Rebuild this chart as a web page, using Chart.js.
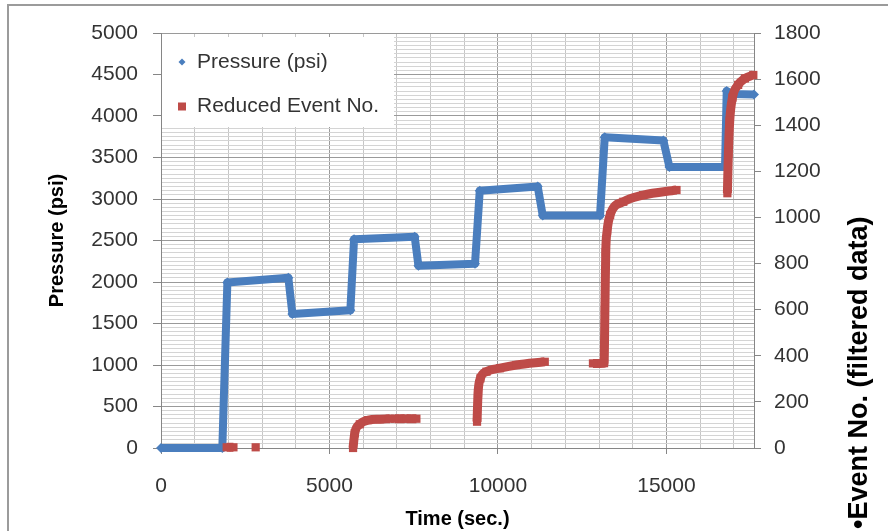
<!DOCTYPE html>
<html>
<head>
<meta charset="utf-8">
<title>Pressure and event count</title>
<script src="https://cdn.jsdelivr.net/npm/chart.js@4.4.1/dist/chart.umd.min.js"></script>
<style>
    html, body { margin: 0; padding: 0; background: #ffffff; }
    canvas { display: block; }
</style>
</head>
<body>
<canvas id="pressureChart" width="888" height="531"></canvas>
<script>
// Pressure steps (left axis)
const pressureTime  = [0, 1820, 1970, 3780, 3900, 5620, 5730, 7530, 7640, 9320, 9460, 11180, 11330, 13030, 13170, 14910, 15090, 16740, 16790, 16950, 17600];
const pressureValue = [0, 0, 1995, 2050, 1615, 1660, 2515, 2545, 2195, 2220, 3100, 3150, 2800, 2800, 3745, 3705, 3385, 3385, 4300, 4265, 4260];

// Reduced event count (right axis), null marks a break in the record
const eventTime  = [1950, 2150, 2480, 2810, 4000, 5700, 5750, 5900, 6150, 6500, 6790, 6860, 6940, 7230, 7260, 7290, 7580, 8500,
                    9380, 9410, 9480, 9660, 10060, 10550, 11390, 12000,
                    12820, 13150, 13175, 13200, 13240, 13330, 13720, 14310, 15300, 16000,
                    16810, 16840, 16880, 16960, 17130, 17330, 17580];
const eventValue = [3, 3, null, 3, null, 0, 64, 103, 121, 125, 127, null, 127, 127, null, 127, 127, null,
                    114, 237, 302, 331, 346, 360, 374, null,
                    367, 368, 600, 850, 940, 1011, 1068, 1097, 1119, null,
                    1105, 1280, 1420, 1520, 1575, 1603, 1618];

// time axis gridlines, labelled every 5000 s
const timeTicks = [0, 1000, 2000, 3000, 4000, 5000, 6000, 7000, 8000, 9000, 10000, 11000, 12000, 13000, 14000, 15000, 16000, 17000];
const timeLabels = [0, 5000, 10000, 15000];

const timeMax = 17600;
const pressureMax = 5000;
const eventMax = 1800;

const blue = '#4a7ebe';
const red = '#be4b48';
const tickFont = { family: '"Liberation Sans", Arial, sans-serif', size: 21 };

const pressurePoints = pressureTime.map((t, i) => ({ x: t, y: pressureValue[i] }));
const eventPoints = eventTime.map((t, i) => ({ x: t, y: eventValue[i] }));

// legend box, right title and outer frame
const extras = {
    id: 'extras',
    beforeDatasetsDraw(chart) {
        const ctx = chart.ctx;
        const a = chart.chartArea;
        ctx.save();
        ctx.fillStyle = '#ffffff';
        ctx.fillRect(a.left + 1, a.top + 4, 232, 90);

        ctx.fillStyle = blue;
        ctx.beginPath();
        ctx.moveTo(182, 58.5);
        ctx.lineTo(185.5, 62);
        ctx.lineTo(182, 65.5);
        ctx.lineTo(178.5, 62);
        ctx.closePath();
        ctx.fill();
        ctx.fillStyle = red;
        ctx.fillRect(178, 102.5, 8, 8);

        ctx.fillStyle = '#333333';
        ctx.font = '21px "Liberation Sans", Arial, sans-serif';
        ctx.textBaseline = 'middle';
        ctx.textAlign = 'left';
        ctx.fillText('Pressure (psi)', 197, 62);
        ctx.fillText('Reduced Event No.', 197, 106);
        ctx.restore();
    },
    afterDraw(chart) {
        const ctx = chart.ctx;
        ctx.save();
        ctx.translate(860, 529);
        ctx.rotate(-Math.PI / 2);
        ctx.fillStyle = '#000000';
        ctx.font = 'bold 27px "Liberation Sans", Arial, sans-serif';
        ctx.textAlign = 'left';
        ctx.textBaseline = 'middle';
        ctx.fillText('\u2022Event No. (filtered data)', 0, 0);
        ctx.restore();

        ctx.save();
        ctx.strokeStyle = '#9b9b9b';
        ctx.lineWidth = 2;
        ctx.beginPath();
        ctx.moveTo(8, 531);
        ctx.lineTo(8, 5);
        ctx.lineTo(888, 5);
        ctx.stroke();
        ctx.restore();
    }
};

new Chart(document.getElementById('pressureChart').getContext('2d'), {
    type: 'line',
    data: {
        datasets: [
            {
                label: 'Reduced Event No.',
                data: eventPoints,
                yAxisID: 'y1',
                order: 0,
                borderColor: red,
                backgroundColor: red,
                borderWidth: 9,
                borderCapStyle: 'butt',
                cubicInterpolationMode: 'monotone',
                pointStyle: 'rect',
                pointRadius: 5.8,
                pointBorderWidth: 0,
                pointBackgroundColor: red,
                spanGaps: false,
                clip: false
            },
            {
                label: 'Pressure (psi)',
                data: pressurePoints,
                yAxisID: 'y',
                order: 1,
                borderColor: blue,
                backgroundColor: blue,
                borderWidth: 8,
                borderJoinStyle: 'round',
                pointStyle: 'rectRot',
                pointRadius: 5,
                pointBorderWidth: 0,
                pointBackgroundColor: blue,
                clip: false
            }
        ]
    },
    options: {
        responsive: false,
        animation: false,
        events: [],
        layout: { padding: { top: 33, left: 0, right: 0, bottom: 0 } },
        plugins: {
            legend: { display: false },
            tooltip: { enabled: false }
        },
        scales: {
            x: {
                type: 'linear',
                position: 'bottom',
                min: 0,
                max: timeMax,
                afterFit: s => { s.height = 83; },
                afterBuildTicks: s => { s.ticks = timeTicks.map(v => ({ value: v })); },
                border: { color: '#868686' },
                grid: {
                    color: c => (timeLabels.includes(c.tick.value) ? '#9a9a9a' : '#c6c6c6'),
                    tickColor: c => (timeLabels.includes(c.tick.value) ? '#868686' : 'rgba(0,0,0,0)'),
                    tickLength: 6
                },
                ticks: {
                    autoSkip: false,
                    maxRotation: 0,
                    padding: 20,
                    color: '#333333',
                    font: tickFont,
                    callback: v => (timeLabels.includes(v) ? String(v) : '')
                },
                title: {
                    display: true,
                    text: 'Time (sec.)',
                    color: '#000000',
                    font: { family: '"Liberation Sans", Arial, sans-serif', size: 20, weight: 'bold' },
                    padding: { top: 0, bottom: 0 }
                }
            },
            y: {
                position: 'left',
                min: 0,
                max: pressureMax,
                afterFit: s => { s.width = 161; },
                border: { color: '#868686' },
                grid: {
                    color: c => (c.tick.value % 500 === 0 ? '#9a9a9a' : '#d4d4d4'),
                    tickColor: c => (c.tick.value % 500 === 0 ? '#868686' : 'rgba(0,0,0,0)'),
                    tickLength: 8
                },
                ticks: {
                    stepSize: 50,
                    autoSkip: false,
                    padding: 15,
                    color: '#333333',
                    font: tickFont,
                    callback: v => (v % 500 === 0 ? String(v) : '')
                },
                title: {
                    display: true,
                    text: 'Pressure (psi)',
                    color: '#000000',
                    font: { family: '"Liberation Sans", Arial, sans-serif', size: 20, weight: 'bold' },
                    padding: { top: 45, bottom: 0 }
                }
            },
            y1: {
                position: 'right',
                min: 0,
                max: eventMax,
                afterFit: s => { s.width = 134; },
                border: { color: '#868686' },
                grid: {
                    drawOnChartArea: false,
                    tickColor: '#868686',
                    tickLength: 7
                },
                ticks: {
                    stepSize: 200,
                    autoSkip: false,
                    padding: 13,
                    color: '#333333',
                    font: tickFont,
                    callback: v => String(v)
                }
            }
        }
    },
    plugins: [extras]
});
</script>
</body>
</html>
